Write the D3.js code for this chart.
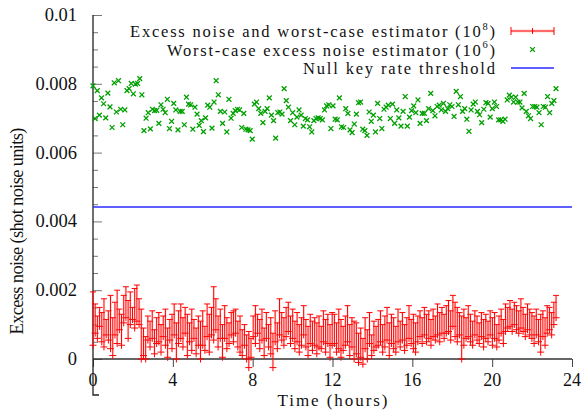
<!DOCTYPE html>
<html>
<head>
<meta charset="utf-8">
<script src="https://cdn.jsdelivr.net/npm/d3@7"></script>
<style>
  html, body { margin: 0; padding: 0; background: #fff; }
  text { font-family: "Liberation Serif", "DejaVu Serif", serif; fill: #111; }
</style>
</head>
<body>
<div id="chart"></div>
<script>
// ---- data ----
const firstHour = 0, lastHour = 23.2;
const xTicks = [0, 4, 8, 12, 16, 20, 24];
const yTicks = [0, 0.002, 0.004, 0.006, 0.008, 0.01];
const yTickLabels = ["0", "0.002", "0.004", "0.006", "0.008", "0.01"];
const threshold = 0.00442;

const worstCase = [
  0.00794, 0.00699, 0.00780, 0.00709, 0.00759, 0.00742, 0.00701, 0.00773, 0.00733, 0.00673,
  0.00803, 0.00718, 0.00809, 0.00726, 0.00681, 0.00724, 0.00780, 0.00786, 0.00801, 0.00771,
  0.00799, 0.00801, 0.00815, 0.00768, 0.00664, 0.00700, 0.00716, 0.00669, 0.00726, 0.00722,
  0.00723, 0.00685, 0.00739, 0.00726, 0.00716, 0.00755, 0.00670, 0.00691, 0.00743, 0.00724,
  0.00666, 0.00720, 0.00720, 0.00681, 0.00761, 0.00741, 0.00739, 0.00668, 0.00732, 0.00712,
  0.00679, 0.00693, 0.00661, 0.00701, 0.00738, 0.00732, 0.00671, 0.00747, 0.00809, 0.00768,
  0.00720, 0.00685, 0.00718, 0.00660, 0.00755, 0.00700, 0.00714, 0.00722, 0.00726, 0.00724,
  0.00673, 0.00714, 0.00668, 0.00666, 0.00664, 0.00639, 0.00741, 0.00747,
  0.00728, 0.00714, 0.00687, 0.00720, 0.00728, 0.00759, 0.00709, 0.00693, 0.00642, 0.00716,
  0.00718, 0.00712, 0.00786, 0.00751, 0.00732, 0.00693, 0.00716, 0.00681, 0.00703, 0.00724,
  0.00709, 0.00677, 0.00699, 0.00695, 0.00675, 0.00660, 0.00693, 0.00699, 0.00701, 0.00699,
  0.00695, 0.00724, 0.00736, 0.00739, 0.00670, 0.00736, 0.00697, 0.00695, 0.00759, 0.00675,
  0.00673, 0.00728, 0.00714, 0.00666, 0.00658, 0.00683, 0.00712, 0.00745, 0.00747, 0.00668,
  0.00664, 0.00650, 0.00718, 0.00691, 0.00709, 0.00660, 0.00743, 0.00699, 0.00670, 0.00726,
  0.00732, 0.00738, 0.00699, 0.00741, 0.00685, 0.00724, 0.00701, 0.00677, 0.00720, 0.00763,
  0.00677, 0.00703, 0.00722, 0.00736, 0.00716,
  0.00753, 0.00685, 0.00714, 0.00714, 0.00693, 0.00728, 0.00772, 0.00722, 0.00707, 0.00734,
  0.00738, 0.00724, 0.00743, 0.00720, 0.00728, 0.00739, 0.00734, 0.00705, 0.00778, 0.00739,
  0.00763, 0.00720, 0.00728, 0.00697, 0.00662, 0.00724, 0.00741, 0.00747, 0.00720, 0.00710,
  0.00687, 0.00726, 0.00745, 0.00743, 0.00703, 0.00728, 0.00747, 0.00734, 0.00695, 0.00695,
  0.00691, 0.00697, 0.00753, 0.00767, 0.00761, 0.00747, 0.00761, 0.00747, 0.00747, 0.00730,
  0.00772, 0.00720, 0.00707, 0.00699, 0.00734, 0.00734, 0.00732, 0.00716, 0.00681, 0.00734,
  0.00732, 0.00763, 0.00716, 0.00743, 0.00751, 0.00786
];

// excess noise estimate (point) and worst-case estimator (top of the bar)
const noiseLow = [
  0.00040, 0.00075, 0.00060, 0.00095, 0.00050, 0.00035, 0.00070, 0.00055, 0.00030, 0.00010,
  0.00070, 0.00045, 0.00085, 0.00040, 0.00105, 0.00120, 0.00060, 0.00100, 0.00115, 0.00090,
  0.00110, 0.00100, 0.00000, 0.00010, 0.00000, 0.00055, 0.00035, 0.00060, 0.00015, 0.00045,
  0.00050, 0.00020, 0.00065, 0.00040, 0.00005, 0.00055, 0.00030, 0.00070, 0.00000, 0.00045,
  0.00060, 0.00035, 0.00075, 0.00010, 0.00050, 0.00025, 0.00060, 0.00015, 0.00040, 0.00000,
  0.00040, 0.00025, 0.00065, 0.00020, 0.00070, 0.00055, 0.00085, 0.00035, 0.00060, 0.00005,
  0.00060, 0.00030, 0.00045, 0.00070, 0.00050, 0.00075, 0.00035, 0.00020, 0.00010, 0.00040,
  0.00000, -0.00025, 0.00005, 0.00065, 0.00045, 0.00075, 0.00030, 0.00055, 0.00010, 0.00060,
  0.00035, 0.00015, -0.00025, 0.00050, 0.00030, 0.00070, 0.00055, 0.00040, 0.00065, 0.00080,
  0.00045, 0.00060, 0.00030, 0.00050, 0.00020, 0.00040, 0.00070, 0.00035, 0.00010, 0.00045,
  0.00025, 0.00040, 0.00015, 0.00035, 0.00030, 0.00050, 0.00020, 0.00045, 0.00005, 0.00040,
  0.00045, 0.00020, 0.00030, 0.00005, 0.00025, 0.00040, 0.00050, 0.00010, 0.00035, 0.00000,
  0.00015, -0.00010, 0.00005, -0.00015, 0.00030, 0.00000, 0.00045, 0.00010, 0.00025, 0.00035,
  0.00040, 0.00050, 0.00020, 0.00035, 0.00055, 0.00010, 0.00045, 0.00030, 0.00020, 0.00050,
  0.00035, 0.00055, 0.00025, 0.00040, 0.00060, 0.00045, 0.00030, 0.00020, 0.00050, 0.00065,
  0.00045, 0.00070, 0.00050, 0.00060, 0.00040, 0.00065, 0.00055, 0.00070, 0.00050, 0.00075,
  0.00060, 0.00075, 0.00080, 0.00055, 0.00095, 0.00065, 0.00050, 0.00070, 0.00000, 0.00040,
  0.00060, 0.00065, 0.00050, 0.00040, 0.00070, 0.00055, 0.00045, 0.00065, 0.00035, 0.00060,
  0.00050, 0.00070, 0.00040, 0.00060, 0.00035, 0.00055, 0.00075, 0.00045, 0.00080, 0.00090,
  0.00095, 0.00080, 0.00100, 0.00085, 0.00075, 0.00090, 0.00080, 0.00065, 0.00085, 0.00070,
  0.00060, 0.00045, 0.00070, 0.00050, 0.00020, 0.00065, 0.00040, 0.00075, 0.00085, 0.00070,
  0.00100, 0.00120
];
const noiseHigh = [
  0.00195, 0.00160, 0.00125, 0.00150, 0.00135, 0.00175, 0.00115, 0.00140, 0.00185, 0.00120,
  0.00165, 0.00200, 0.00145, 0.00130, 0.00185, 0.00210, 0.00170, 0.00195, 0.00150, 0.00205,
  0.00215, 0.00175, 0.00145, 0.00090, 0.00065, 0.00125, 0.00110, 0.00140, 0.00085, 0.00120,
  0.00135, 0.00100, 0.00125, 0.00145, 0.00090, 0.00115, 0.00130, 0.00160, 0.00105, 0.00140,
  0.00160, 0.00120, 0.00150, 0.00130, 0.00105, 0.00145, 0.00115, 0.00090, 0.00125, 0.00110,
  0.00140, 0.00095, 0.00160, 0.00130, 0.00150, 0.00210, 0.00175, 0.00125, 0.00145, 0.00100,
  0.00155, 0.00120, 0.00105, 0.00135, 0.00140, 0.00145, 0.00110, 0.00125, 0.00085, 0.00100,
  0.00070, 0.00080, 0.00060, 0.00125, 0.00155, 0.00130, 0.00115, 0.00145, 0.00090, 0.00135,
  0.00100, 0.00120, 0.00075, 0.00140, 0.00105, 0.00175, 0.00135, 0.00120, 0.00150, 0.00165,
  0.00125, 0.00145, 0.00110, 0.00135, 0.00100, 0.00120, 0.00155, 0.00115, 0.00095, 0.00130,
  0.00110, 0.00120, 0.00105, 0.00125, 0.00095, 0.00140, 0.00115, 0.00130, 0.00100, 0.00135,
  0.00130, 0.00105, 0.00145, 0.00115, 0.00095, 0.00125, 0.00155, 0.00100, 0.00120, 0.00110,
  0.00105, 0.00075, 0.00090, 0.00060, 0.00120, 0.00085, 0.00135, 0.00070, 0.00110, 0.00095,
  0.00115, 0.00140, 0.00100, 0.00125, 0.00150, 0.00105, 0.00130, 0.00120, 0.00095, 0.00145,
  0.00110, 0.00135, 0.00100, 0.00120, 0.00155, 0.00115, 0.00130, 0.00105, 0.00125, 0.00140,
  0.00120, 0.00150, 0.00130, 0.00140, 0.00115, 0.00145, 0.00125, 0.00160, 0.00135, 0.00150,
  0.00130, 0.00155, 0.00170, 0.00140, 0.00185, 0.00165, 0.00150, 0.00135, 0.00125, 0.00145,
  0.00120, 0.00155, 0.00130, 0.00110, 0.00140, 0.00125, 0.00105, 0.00135, 0.00115, 0.00130,
  0.00110, 0.00140, 0.00120, 0.00135, 0.00100, 0.00125, 0.00145, 0.00115, 0.00160, 0.00150,
  0.00170, 0.00145, 0.00165, 0.00155, 0.00140, 0.00175, 0.00150, 0.00130, 0.00160, 0.00145,
  0.00135, 0.00125, 0.00145, 0.00115, 0.00130, 0.00140, 0.00120, 0.00155, 0.00150, 0.00135,
  0.00165, 0.00185
];

// ---- layout ----
const W = 582, H = 410;
const m = { left: 93, right: 572, top: 15, bottom: 359 };

const svg = d3.select("#chart").append("svg")
  .attr("width", W).attr("height", H);

const x = d3.scaleLinear().domain([0, 24]).range([m.left, m.right]);
const y = d3.scaleLinear().domain([0, 0.01]).range([m.bottom, m.top]);
// sample index -> hour (samples are evenly spaced over the run)
const hourScale = n => d3.scaleLinear().domain([0, n - 1]).range([firstHour, lastHour]);
const greenHour = hourScale(worstCase.length);
const redHour = hourScale(noiseLow.length);

//Axes
const yAxis = d3.axisRight(y)
  .tickValues(d3.range(0, 0.01001, 0.0005))
  .tickSize(5).tickFormat("");
svg.append("g").attr("transform", `translate(${m.left},0)`).call(yAxis)
  .call(g => g.select(".domain").remove())
  .call(g => g.selectAll(".tick line")
    .attr("stroke", "#777")
    .attr("x2", d => (yTicks.some(v => Math.abs(v - d) < 1e-9) ? 9 : 5)));

const xAxis = d3.axisBottom(x).tickValues(xTicks).tickSize(8).tickFormat("");
svg.append("g").attr("transform", `translate(0,${m.bottom})`).call(xAxis)
  .call(g => g.select(".domain").remove())
  .call(g => g.selectAll(".tick line").attr("stroke", "#444"));

svg.append("line")
  .attr("x1", m.left).attr("x2", m.right).attr("y1", m.bottom).attr("y2", m.bottom)
  .attr("stroke", "#333").attr("stroke-width", 1.3);
svg.append("path")
  .attr("d", `M${m.left},${m.top}V395H${m.left + 6}`)
  .attr("fill", "none").attr("stroke", "#222").attr("stroke-width", 1.3);

//Tick labels
svg.append("g").selectAll("text").data(yTicks).enter().append("text")
  .attr("x", 77).attr("y", d => y(d))
  .attr("text-anchor", "end").attr("dominant-baseline", "central")
  .attr("font-size", 18.5)
  .text((d, i) => yTickLabels[i]);

svg.append("g").selectAll("text").data(xTicks).enter().append("text")
  .attr("x", d => x(d)).attr("y", 380)
  .attr("text-anchor", "middle").attr("dominant-baseline", "central")
  .attr("font-size", 18)
  .text(d => d);

svg.append("text")
  .attr("x", x(12)).attr("y", 400.5)
  .attr("text-anchor", "middle").attr("dominant-baseline", "central")
  .attr("font-size", 17)
  .attr("textLength", 110).attr("lengthAdjust", "spacing")
  .text("Time (hours)");

svg.append("text")
  .attr("transform", "translate(17,231) rotate(-90)")
  .attr("text-anchor", "middle").attr("dominant-baseline", "central")
  .attr("font-size", 18.5)
  .attr("textLength", 207).attr("lengthAdjust", "spacing")
  .text("Excess noise (shot noise units)");

//Threshold
svg.append("line")
  .attr("x1", m.left).attr("x2", m.right)
  .attr("y1", y(threshold)).attr("y2", y(threshold))
  .attr("stroke", "#2a2aff").attr("stroke-width", 1.5);

//Error bars
const red = "#ff0000";
const bars = svg.append("g").selectAll("g.bar")
  .data(noiseLow.map((lo, i) => ({ t: redHour(i), lo: lo, hi: noiseHigh[i] })))
  .enter().append("g").classed("bar", true);

bars.append("line").attr("stroke", "rgba(255,80,80,0.13)").attr("stroke-width", 2.6)
  .attr("x1", d => x(d.t)).attr("x2", d => x(d.t))
  .attr("y1", d => y(d.lo)).attr("y2", d => y(d.hi));
bars.append("path")
  .attr("fill", "none").attr("stroke", red).attr("stroke-width", 1)
  .attr("d", d => {
    const cx = x(d.t), y0 = y(d.lo), y1 = y(d.hi);
    return `M${cx},${y0 + 3.5}V${y1}M${cx - 3},${y1}H${cx + 3}M${cx - 3.5},${y0}H${cx + 3.5}`;
  });

//Worst-case estimator points
const green = "#00a000";
const crossPath = (cx, cy, r) => `M${cx - r},${cy - r}L${cx + r},${cy + r}M${cx - r},${cy + r}L${cx + r},${cy - r}`;
svg.append("g").selectAll("path").data(worstCase).enter().append("path")
  .attr("d", (d, i) => crossPath(x(greenHour(i)), y(d), 2.4))
  .attr("stroke", green).attr("stroke-width", 1.3).attr("fill", "none");

//Legend
const legend = svg.append("g");
const legendRows = [
  { label: "Excess noise and worst-case estimator (10", sup: "8", y: 31, len: 365 },
  { label: "Worst-case excess noise estimator (10", sup: "6", y: 49.5, len: 328 },
  { label: "Null key rate threshold", sup: null, y: 68, len: 192 }
];
legendRows.forEach(r => {
  const t = legend.append("text")
    .attr("x", 495).attr("y", r.y)
    .attr("text-anchor", "end").attr("dominant-baseline", "central")
    .attr("font-size", 16.5)
    .attr("textLength", r.len).attr("lengthAdjust", "spacing");
  t.append("tspan").text(r.label);
  if (r.sup) {
    t.append("tspan").attr("font-size", 10.5).attr("dy", -5.5).text(r.sup);
    t.append("tspan").attr("dy", 5.5).text(")");
  }
});
const lx0 = 511, lx1 = 554, lxm = (lx0 + lx1) / 2;
legend.append("line").attr("x1", lx0).attr("x2", lx1).attr("y1", 31).attr("y2", 31)
  .attr("stroke", "rgba(255,80,80,0.25)").attr("stroke-width", 3);
legend.append("path")
  .attr("d", `M${lx0},31H${lx1}M${lx0},27V35M${lx1},27V35M${lxm},28V34`)
  .attr("stroke", red).attr("stroke-width", 1).attr("fill", "none");
legend.append("path").attr("d", crossPath(lxm, 49.5, 2.4))
  .attr("stroke", green).attr("stroke-width", 1.3).attr("fill", "none");
legend.append("line").attr("x1", lx0).attr("x2", lx1).attr("y1", 68).attr("y2", 68)
  .attr("stroke", "#2a2aff").attr("stroke-width", 1.5);
</script>
</body>
</html>
